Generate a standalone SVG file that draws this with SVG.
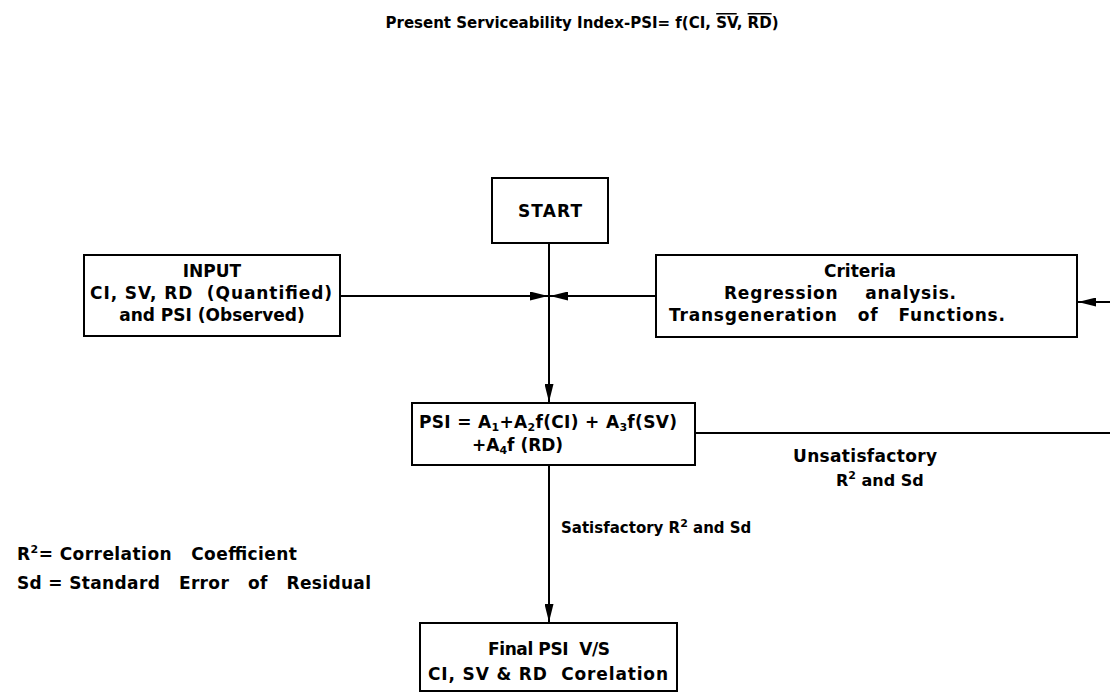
<svg xmlns="http://www.w3.org/2000/svg" width="1110" height="698" viewBox="0 0 1110 698">
<style>
text{font-family:"DejaVu Sans","Liberation Sans",sans-serif;font-size:17px;fill:#000;font-weight:bold;white-space:pre}
.t15{font-size:15px}
.t16{font-size:16px}
.box{fill:#fff;stroke:#000;stroke-width:2}
.ln{fill:none;stroke:#000;stroke-width:2}
.c{text-anchor:middle}
.sub{font-size:11px}
</style>
<defs>
<marker id="ah" viewBox="0 0 20 10" refX="20" refY="5" markerWidth="18" markerHeight="9" markerUnits="userSpaceOnUse" orient="auto">
<path d="M0,0 L20,5 L0,10 Z" fill="#000"/>
</marker>
</defs>
<g id="title">
<text x="582" y="28" class="c t15" xml:space="preserve">Present Serviceability Index-PSI= f(CI, <tspan text-decoration="overline">SV</tspan>, <tspan text-decoration="overline">RD</tspan>)</text>
</g>
<g id="connectors">
<line class="ln" x1="549" y1="243" x2="549" y2="402" marker-end="url(#ah)"/>
<line class="ln" x1="340" y1="296" x2="548" y2="296" marker-end="url(#ah)"/>
<line class="ln" x1="656" y1="296" x2="550" y2="296" marker-end="url(#ah)"/>
<line class="ln" x1="1110" y1="302" x2="1078" y2="302" marker-end="url(#ah)"/>
<line class="ln" x1="695" y1="433" x2="1110" y2="433"/>
<line class="ln" x1="549" y1="465" x2="549" y2="622" marker-end="url(#ah)"/>
<text x="561" y="533" class="t15" xml:space="preserve">Satisfactory R<tspan class="sub" dy="-6">2</tspan><tspan dy="6"> and Sd</tspan></text>
<text x="793" y="462" textLength="144">Unsatisfactory</text>
<text x="836" y="486" class="t16" xml:space="preserve">R<tspan class="sub" dy="-7">2</tspan><tspan dy="7"> and Sd</tspan></text>
</g>
<g id="start">
<rect class="box" x="492" y="178" width="116" height="65"/>
<text x="550" y="217" class="c" textLength="64">START</text>
</g>
<g id="input">
<rect class="box" x="84" y="255" width="256" height="81"/>
<text x="212" y="277" class="c">INPUT</text>
<text x="211" y="299" class="c" xml:space="preserve" textLength="242">CI, SV, RD  (Quantified)</text>
<text x="212" y="321" class="c">and PSI (Observed)</text>
</g>
<g id="criteria">
<rect class="box" x="656" y="255" width="421" height="82"/>
<text x="860" y="277" class="c">Criteria</text>
<text x="840" y="299" class="c" xml:space="preserve" textLength="232">Regression    analysis.</text>
<text x="837" y="321" class="c" xml:space="preserve" textLength="336">Transgeneration   of   Functions.</text>
</g>
<g id="psi">
<rect class="box" x="412" y="403" width="283" height="62"/>
<text x="419" y="428" xml:space="preserve" textLength="258">PSI = A<tspan class="sub" dy="3">1</tspan><tspan dy="-3">+A</tspan><tspan class="sub" dy="3">2</tspan><tspan dy="-3">f(CI) + A</tspan><tspan class="sub" dy="3">3</tspan><tspan dy="-3">f(SV)</tspan></text>
<text x="472" y="451" xml:space="preserve">+A<tspan class="sub" dy="3">4</tspan><tspan dy="-3">f (RD)</tspan></text>
</g>
<g id="final">
<rect class="box" x="420" y="623" width="257" height="68"/>
<text x="549" y="655" class="c" xml:space="preserve" textLength="122">Final PSI  V/S</text>
<text x="548" y="680" class="c" xml:space="preserve" textLength="240">CI, SV &amp; RD  Corelation</text>
</g>
<g id="legend">
<text x="17" y="560" xml:space="preserve" textLength="280">R<tspan class="sub" dy="-7">2</tspan><tspan dy="7">= Correlation   Coefficient</tspan></text>
<text x="17" y="589" xml:space="preserve" textLength="354">Sd = Standard   Error   of   Residual</text>
</g>
</svg>
